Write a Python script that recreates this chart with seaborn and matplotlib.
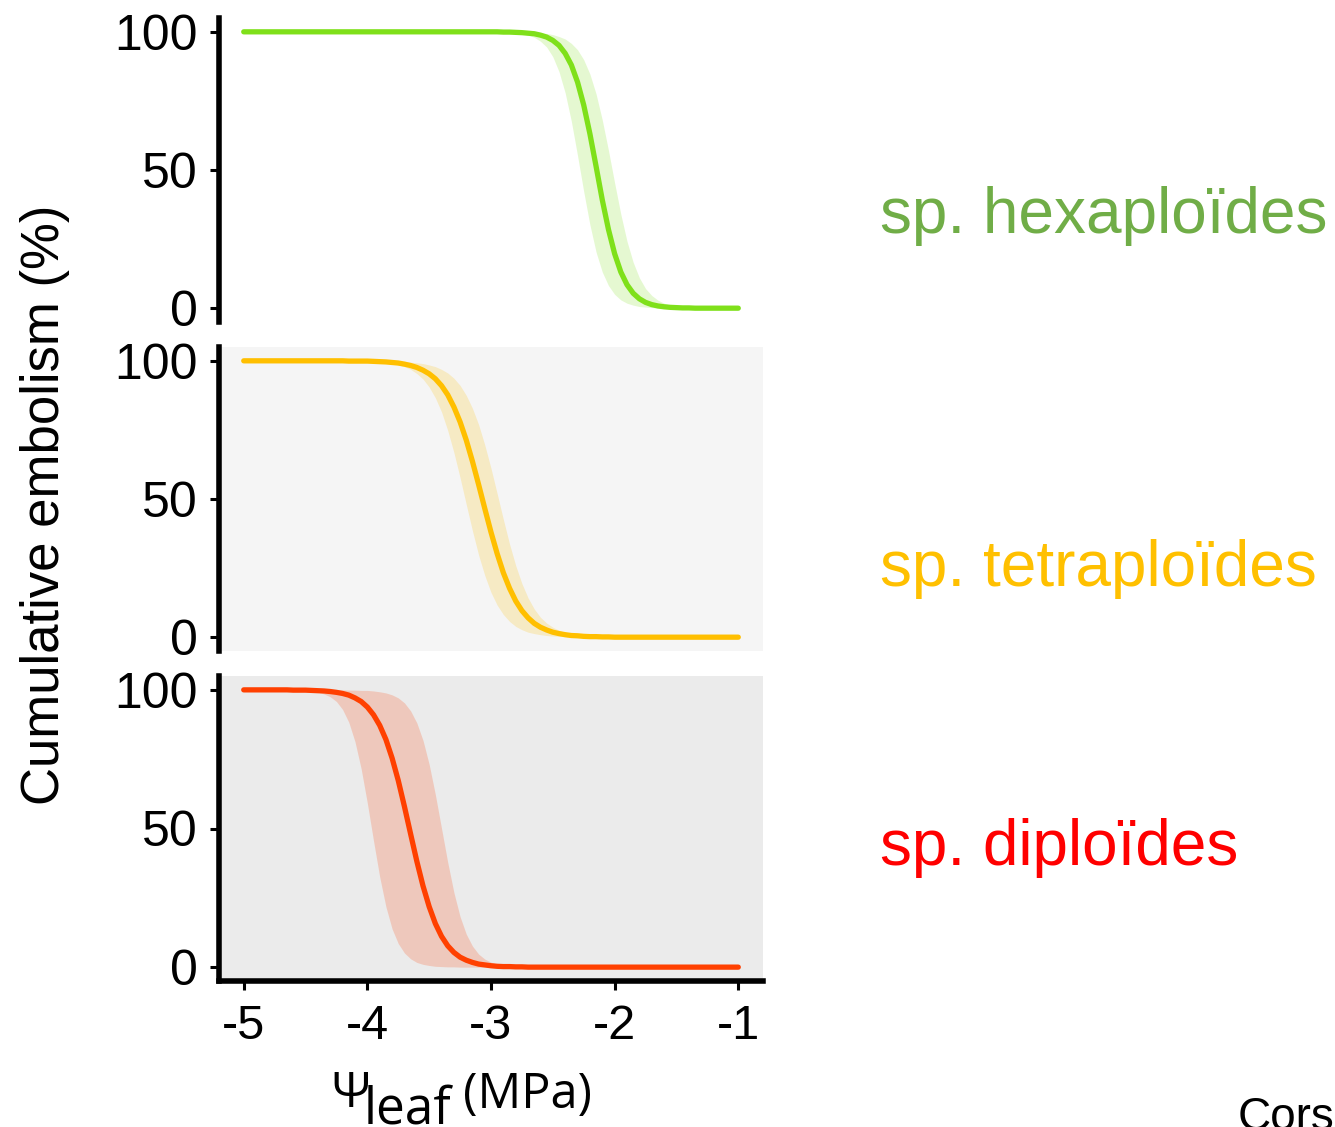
import matplotlib
matplotlib.use("Agg")
import matplotlib.pyplot as plt
import seaborn as sns
import pandas as pd

# ---------------- data (every 0.05 MPa) ----------------
psi = [-5.00, -4.95, -4.90, -4.85, -4.80, -4.75, -4.70, -4.65, -4.60, -4.55,
       -4.50, -4.45, -4.40, -4.35, -4.30, -4.25, -4.20, -4.15, -4.10, -4.05,
       -4.00, -3.95, -3.90, -3.85, -3.80, -3.75, -3.70, -3.65, -3.60, -3.55,
       -3.50, -3.45, -3.40, -3.35, -3.30, -3.25, -3.20, -3.15, -3.10, -3.05,
       -3.00, -2.95, -2.90, -2.85, -2.80, -2.75, -2.70, -2.65, -2.60, -2.55,
       -2.50, -2.45, -2.40, -2.35, -2.30, -2.25, -2.20, -2.15, -2.10, -2.05,
       -2.00, -1.95, -1.90, -1.85, -1.80, -1.75, -1.70, -1.65, -1.60, -1.55,
       -1.50, -1.45, -1.40, -1.35, -1.30, -1.25, -1.20, -1.15, -1.10, -1.05,
       -1.00]

# sp. hexaploides: fitted curve and its band (lower / upper edge)
hexa_mid = [100] * 42 + [99.9, 99.9, 99.8, 99.7, 99.5, 99.3, 98.8, 98.1, 96.9, 95.1,
                         92.2, 88.0, 81.8, 73.5, 63.1, 51.3, 39.2, 28.5, 19.7, 13.1,
                         8.5, 5.4, 3.4, 2.1, 1.3, 0.8, 0.5, 0.3, 0.2, 0.1,
                         0.1] + [0] * 8
hexa_lo = [100] * 40 + [100, 99.9, 99.9, 99.7, 99.6, 99.3, 98.8, 98.0, 96.6, 94.5,
                        91.0, 85.6, 77.9, 67.6, 55.2, 42.2, 30.2, 20.3, 13.1, 8.2,
                        5.0, 3.0, 1.8, 1.1, 0.6, 0.4, 0.2, 0.1, 0.1] + [0] * 12
hexa_hi = [100] * 44 + [99.9, 99.9, 99.8, 99.7, 99.6, 99.4, 99.0, 98.3, 97.4, 95.8,
                        93.5, 89.9, 84.7, 77.5, 68.1, 57.1, 45.3, 34.0, 24.2, 16.6,
                        11.0, 7.1, 4.6, 2.9, 1.8, 1.1, 0.7, 0.4, 0.3, 0.2,
                        0.1, 0.1] + [0] * 5

# sp. tetraploides
tetra_mid = [100] * 17 + [99.9, 99.9, 99.9, 99.9, 99.8, 99.7, 99.6, 99.4, 99.2, 98.8,
                          98.3, 97.6, 96.6, 95.3, 93.5, 91.0, 87.7, 83.3, 77.9, 71.3,
                          63.6, 55.2, 46.5, 38.0, 30.2, 23.3, 17.7, 13.1, 9.6, 7.0,
                          5.0, 3.6, 2.6, 1.8, 1.3, 0.9, 0.6, 0.5, 0.3, 0.2,
                          0.2, 0.1, 0.1] + [0] * 21
tetra_lo = [100] * 17 + [99.9, 99.9, 99.9, 99.8, 99.7, 99.5, 99.3, 99.0, 98.5, 97.9,
                         96.9, 95.4, 93.4, 90.5, 86.6, 81.5, 74.8, 66.8, 57.7, 48.0,
                         38.5, 29.7, 22.3, 16.2, 11.6, 8.2, 5.7, 3.9, 2.7, 1.8,
                         1.3, 0.9, 0.6, 0.4, 0.3, 0.2, 0.1, 0.1, 0.1] + [0] * 25
tetra_hi = [100] * 21 + [99.9, 99.9, 99.9, 99.8, 99.8, 99.7, 99.5, 99.3, 99.0, 98.5,
                         97.9, 96.9, 95.6, 93.7, 91.1, 87.5, 82.8, 76.9, 69.5, 61.1,
                         51.9, 42.6, 33.7, 25.9, 19.4, 14.2, 10.2, 7.2, 5.1, 3.6,
                         2.5, 1.7, 1.2, 0.8, 0.6, 0.4, 0.3, 0.2, 0.1, 0.1,
                         0.1] + [0] * 19

# sp. diploides
di_mid = [100] * 8 + [99.9, 99.9, 99.9, 99.8, 99.7, 99.6, 99.4, 99.1, 98.7, 98.1,
                      97.1, 95.8, 93.8, 91.0, 87.2, 82.1, 75.4, 67.3, 57.9, 48.0,
                      38.2, 29.3, 21.8, 15.7, 11.1, 7.7, 5.3, 3.6, 2.5, 1.7,
                      1.1, 0.8, 0.5, 0.3, 0.2, 0.2, 0.1, 0.1] + [0] * 35
di_lo = [100] * 7 + [99.9, 99.9, 99.8, 99.7, 99.5, 99.2, 98.5, 97.5, 95.8, 92.9,
                     88.3, 81.3, 71.5, 59.1, 45.5, 32.5, 21.8, 13.8, 8.5, 5.1,
                     3.0, 1.7, 1.0, 0.6, 0.3, 0.2, 0.1, 0.1] + [0] * 46
di_hi = [100] * 17 + [99.9, 99.9, 99.8, 99.8, 99.6, 99.3, 98.9, 98.2, 97.1, 95.3,
                      92.4, 88.1, 81.8, 73.1, 62.2, 50.0, 37.8, 26.9, 18.2, 11.9,
                      7.6, 4.7, 2.9, 1.8, 1.1, 0.7, 0.4, 0.2, 0.2, 0.1,
                      0.1] + [0] * 33

groups = ["sp. hexaploïdes", "sp. tetraploïdes", "sp. diploïdes"]
line_colors = ["#7FE01A", "#FFBF00", "#FF4000"]
label_colors = ["#70AD47", "#FFC000", "#FF0000"]
panel_bg = ["#FFFFFF", "#F5F5F5", "#EBEBEB"]
x_ticks = [-5, -4, -3, -2, -1]
y_ticks = [0, 50, 100]

curves = [(hexa_mid, hexa_lo, hexa_hi),
          (tetra_mid, tetra_lo, tetra_hi),
          (di_mid, di_lo, di_hi)]

# ---------------- style ----------------
sns.set_theme(style="ticks")
plt.rcParams['font.family'] = ['Liberation Sans', 'DejaVu Sans']
plt.rcParams['text.color'] = 'black'

fig = plt.figure(figsize=(13.35, 11.27), dpi=100)
W, H = 1335, 1127

# panel boxes in pixels (left, top, right, bottom)
boxes = [(219, 18, 763, 322), (219, 347, 763, 651), (219, 676, 763, 981)]
label_baseline = [233, 586, 865]

for i, (box, (mid, lo, hi)) in enumerate(zip(boxes, curves)):
    l, t, r, b = box
    ax = fig.add_axes([l / W, 1 - b / H, (r - l) / W, (b - t) / H])
    ax.set_facecolor(panel_bg[i])
    df = pd.DataFrame({"psi": psi, "mid": mid, "lo": lo, "hi": hi})
    ax.fill_between(df["psi"], df["lo"], df["hi"], color=line_colors[i],
                    alpha=0.2, linewidth=0)
    sns.lineplot(data=df, x="psi", y="mid", ax=ax, color=line_colors[i],
                 linewidth=3.8, legend=False)
    ax.set_xlim(-5.2, -0.8)
    ax.set_ylim(-5, 105)
    ax.set_yticks(y_ticks)
    ax.set_xlabel("")
    ax.set_ylabel("")
    for s in ["top", "right"]:
        ax.spines[s].set_visible(False)
    ax.spines["left"].set_linewidth(4)
    ax.spines["left"].set_color("black")
    ax.tick_params(axis="y", length=6.5, width=2.2, color="black",
                   labelsize=36, pad=9, labelcolor="black")
    if i < 2:
        ax.spines["bottom"].set_visible(False)
        ax.set_xticks([])
    else:
        ax.spines["bottom"].set_linewidth(4)
        ax.spines["bottom"].set_color("black")
        ax.set_xticks(x_ticks)
        ax.set_xticklabels([str(v) for v in x_ticks])
        ax.tick_params(axis="x", length=6.5, width=2.2, color="black",
                       labelsize=35, pad=10, labelcolor="black")

    # species label on the right
    fig.text(880 / W, 1 - label_baseline[i] / H, groups[i], color=label_colors[i],
             fontsize=46, ha="left", va="baseline")

# axis titles
fig.text(45 / W, 1 - 505 / H, "Cumulative embolism (%)", rotation=90,
         fontsize=38, ha="center", va="center", color="black")
xl_font = ["Open Sans", "DejaVu Sans"]
fig.text(331 / W, 1 - 1107 / H, "Ψ", fontsize=35, ha="left", va="baseline",
         family=xl_font, color="black")
fig.text(364 / W, 1 - 1123 / H, "leaf", fontsize=37, ha="left", va="baseline",
         family=xl_font, color="black")
fig.text(463 / W, 1 - 1108 / H, "(MPa)", fontsize=35, ha="left", va="baseline",
         family=xl_font, color="black")

# partly cut-off note at the bottom right, as in the source slide
fig.text(1238 / W, 1 - 1096 / H, "Corse", fontsize=33, ha="left", va="top",
         color="black")

fig.savefig("out.png", dpi=100)
